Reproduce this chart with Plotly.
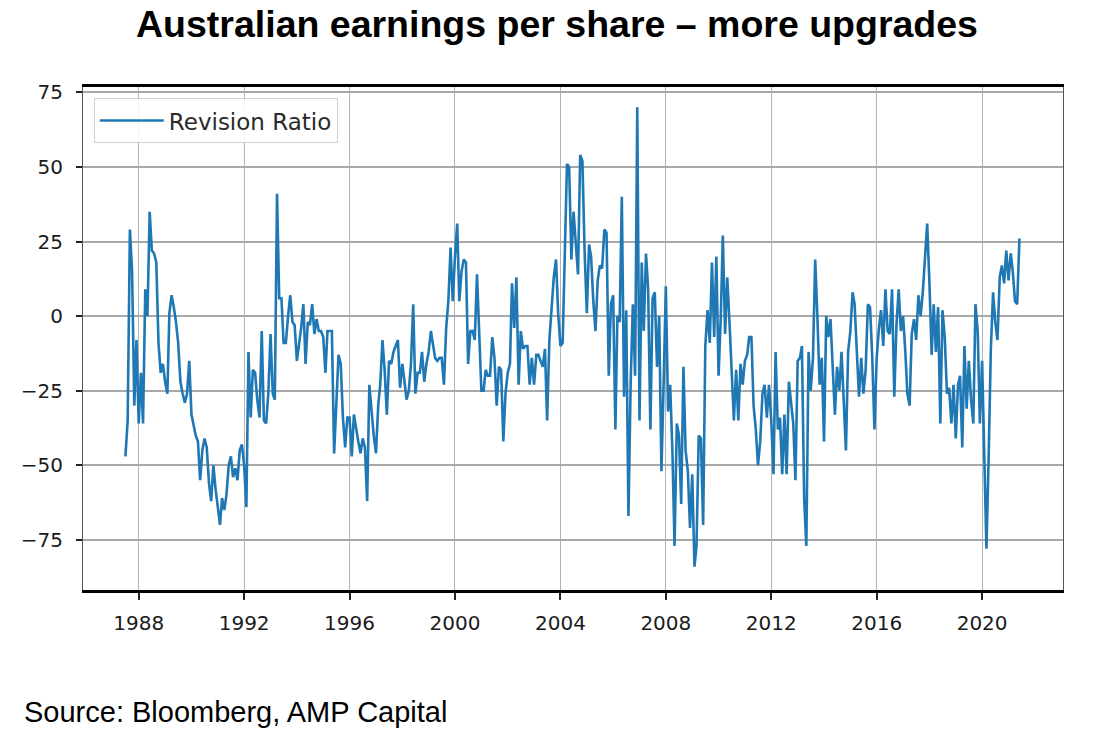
import pandas as pd
import plotly.graph_objects as go

# Revision ratio, monthly (first row starts Jul 1987)
start_month = "1987-07-01"
revision_ratio = [
    -47, -35, 29, 15, -30, -8,                                   # 1987 H2
    -36, -19, -36, 9, 0, 35, 22, 21, 18, -9, -19, -16,           # 1988
    -22, -26, 1, 7, 3, -2, -9, -22, -26, -29, -26, -15,          # 1989
    -33, -37, -40, -42, -55, -45, -41, -44, -56, -62, -50, -58,  # 1990
    -64, -70, -61, -65, -60, -50, -47, -54, -51, -55, -45, -43,  # 1991
    -50, -64, -12, -34, -18, -19, -28, -34, -5, -35, -36, -26,   # 1992
    -6, -26, -28, 41, 6, 6, -9, -9, 0, 7, -2, -3,                # 1993
    -15, -10, -4, 4, -16, -2, -3, 4, -6, -1, -5, -5,             # 1994
    -7, -19, -5, -5, -5, -46, -28, -13, -16, -34, -44, -34,      # 1995
    -34, -47, -33, -38, -42, -46, -41, -44, -62, -23, -33, -40,  # 1996
    -46, -30, -23, -8, -18, -33, -15, -16, -12, -10, -8, -24,    # 1997
    -16, -22, -28, -25, -16, 4, -26, -19, -19, -12, -22, -16,    # 1998
    -12, -5, -10, -14, -15, -14, -14, -23, -4, 5, 23, 5,         # 1999
    20, 31, 5, 15, 19, 18, -16, -5, -5, -8, 14, -9,              # 2000
    -25, -25, -18, -20, -20, -7, -14, -30, -17, -18, -42, -26,   # 2001
    -19, -16, 11, -4, 13, -23, -5, -11, -10, -10, -23, -14,      # 2002
    -23, -13, -13, -15, -17, -11, -35, -8, 4, 13, 19, 1,         # 2003
    -10, -9, 20, 51, 50, 19, 35, 25, 14, 54, 52, 22,             # 2004
    1, 24, 20, 5, -5, 12, 17, 16, 29, 28, -20, 4,                # 2005
    7, -38, 0, -2, 40, -27, 2, -67, -22, 4, -20, 70,             # 2006
    -35, 18, -5, 21, 9, -38, 6, 8, -17, 0, -52, -23,             # 2007
    10, -32, -23, -45, -77, -36, -40, -63, -17, -45, -52, -71,   # 2008
    -53, -84, -77, -40, -41, -70, -10, 2, -9, 18, -7, 20,        # 2009
    -20, 0, 27, -6, 13, -2, -20, -35, -18, -35, -16, -23,        # 2010
    -15, -13, -7, -7, -30, -38, -50, -42, -26, -23, -34, -23,    # 2011
    -35, -53, -12, -38, -34, -53, -33, -53, -22, -30, -36, -55,  # 2012
    -15, -14, -10, -61, -77, -12, -25, -14, 19, 0, -23, -14,     # 2013
    -42, 0, -7, -1, -17, -33, -17, -25, -12, -27, -45, -12,      # 2014
    -5, 8, 4, -12, -27, -14, -26, -18, 4, 3, -14, -38,           # 2015
    -14, -4, 2, -10, 9, -5, -6, 9, -27, -3, 9, -5,               # 2016
    0, -12, -26, -30, -6, -1, -8, 7, 0, 8, 18, 31,               # 2017
    11, -13, 4, -12, 3, -36, 2, -7, -26, -24, -36, -23,          # 2018
    -41, -23, -20, -44, -10, -31, -15, -28, -36, 4, -5, -36,     # 2019
    -15, -46, -78, -47, -11, 8, -2, -8, 13, 17, 11, 22,          # 2020
    12, 21, 15, 5, 4, 26,                                        # 2021 H1
]

x_tick_years = [1988, 1992, 1996, 2000, 2004, 2008, 2012, 2016, 2020]
y_ticks = [-75, -50, -25, 0, 25, 50, 75]

dates = pd.date_range(start_month, periods=len(revision_ratio), freq="MS")

fig = go.Figure()
fig.add_trace(
    go.Scatter(
        x=dates,
        y=revision_ratio,
        mode="lines",
        name="Revision Ratio",
        line=dict(color="#1f77b4", width=2.6),
    )
)

tick_font = dict(family="DejaVu Sans", size=20, color="#1a1a1a")

W, H = 1098, 744
fig.update_layout(
    width=W,
    height=H,
    margin=dict(l=83, r=35, t=87, b=154),
    paper_bgcolor="white",
    plot_bgcolor="white",
    title=dict(
        text="<b>Australian earnings per share \u2013 more upgrades</b>",
        font=dict(family="Liberation Sans, Arial, sans-serif", size=37.5, color="black"),
        x=557 / W,
        xanchor="center",
        y=1 - 24 / H,
        yanchor="middle",
    ),
    showlegend=True,
    legend=dict(
        x=0.011,
        y=0.978,
        xanchor="left",
        yanchor="top",
        bgcolor="rgba(255,255,255,0.85)",
        bordercolor="#d0d0d0",
        borderwidth=1,
        font=dict(family="DejaVu Sans", size=23, color="#2a2a2a"),
        itemwidth=64,
    ),
    annotations=[
        dict(
            text="Source: Bloomberg, AMP Capital",
            xref="paper",
            yref="paper",
            x=(22 - 83) / 980,
            y=(590 - 712) / 503,
            xanchor="left",
            yanchor="middle",
            showarrow=False,
            font=dict(family="Liberation Sans, Arial, sans-serif", size=29, color="black"),
        )
    ],
)

fig.update_xaxes(
    range=["1985-11-20", "2023-01-26"],
    tickvals=[f"{y}-01-01" for y in x_tick_years],
    ticktext=[str(y) for y in x_tick_years],
    tickfont=tick_font,
    ticks="outside",
    ticklen=7,
    tickwidth=1.5,
    tickcolor="#222222",
    ticklabelstandoff=6,
    showgrid=True,
    gridcolor="#b4b4b4",
    gridwidth=1.2,
    showline=True,
    linecolor="black",
    linewidth=2.5,
    mirror=True,
    zeroline=False,
)
fig.update_yaxes(
    range=[-91.8, 76.8],
    tickvals=y_ticks,
    ticktext=[str(v).replace("-", "\u2212") for v in y_ticks],
    tickfont=tick_font,
    ticks="outside",
    ticklen=6,
    tickwidth=1.5,
    tickcolor="#222222",
    ticklabelstandoff=9,
    showgrid=True,
    gridcolor="#a8a8a8",
    gridwidth=1.5,
    showline=True,
    linecolor="#555555",
    linewidth=1.2,
    mirror=True,
    zeroline=False,
)

# drop the browser's default 8px body margin so the figure fills the window
fig.write_html(
    "out.html",
    config={"displayModeBar": False},
    post_script="document.body.style.margin = '0';",
)
